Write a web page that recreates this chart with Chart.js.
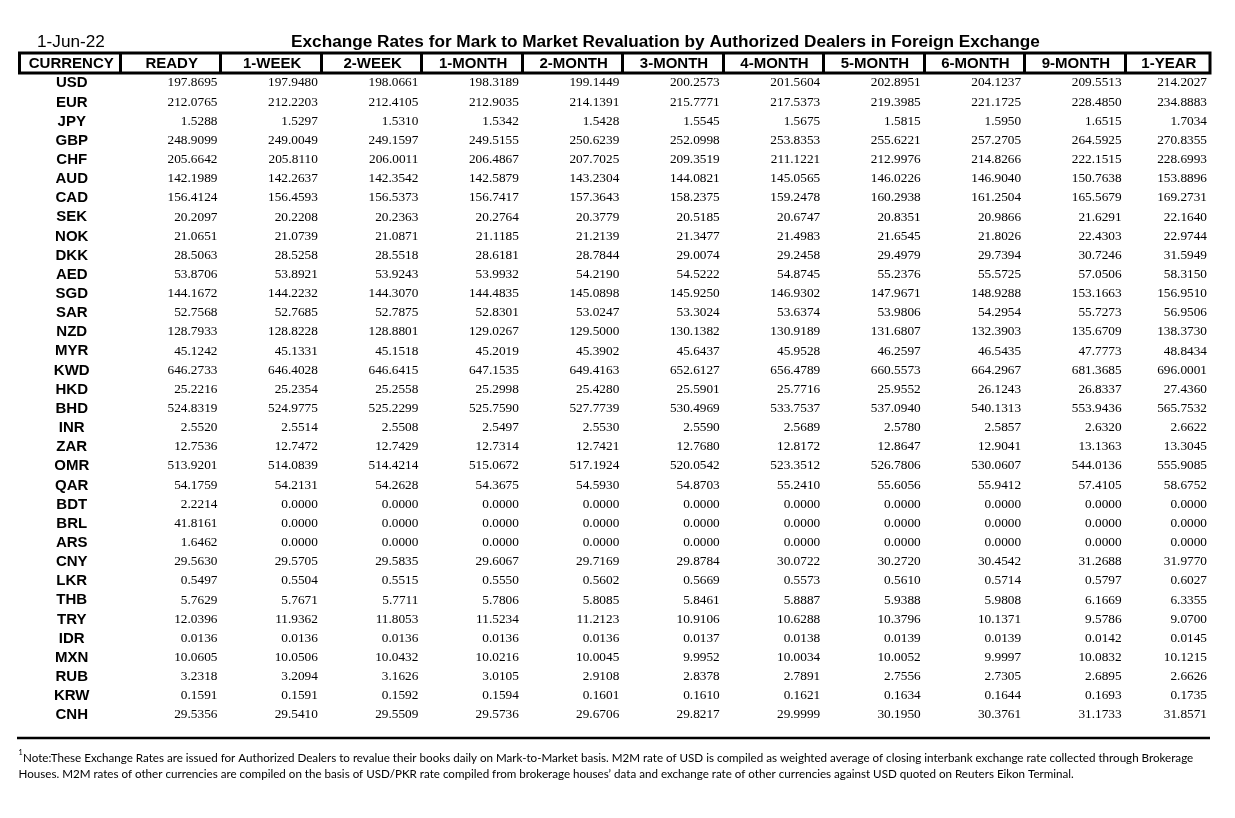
<!DOCTYPE html>
<html>
<head>
<meta charset="utf-8">
<script src="https://cdn.jsdelivr.net/npm/chart.js@4.4.1/dist/chart.umd.min.js"></script>
<style>
html,body{margin:0;padding:0;background:#ffffff;}
canvas{display:block;}
</style>
</head>
<body>
<canvas id="c" width="1235" height="818" style="width:1235px;height:818px"></canvas>
<script>
// ---------------- DATA ----------------
const reportDate = '1-Jun-22';
const titleText = 'Exchange Rates for Mark to Market Revaluation by Authorized Dealers in Foreign Exchange';
const currencyHeader = 'CURRENCY';
const tenors = ['READY','1-WEEK','2-WEEK','1-MONTH','2-MONTH','3-MONTH','4-MONTH','5-MONTH','6-MONTH','9-MONTH','1-YEAR'];
const currencies = ['USD','EUR','JPY','GBP','CHF','AUD','CAD','SEK','NOK','DKK','AED','SGD','SAR','NZD','MYR','KWD','HKD','BHD','INR','ZAR','OMR','QAR','BDT','BRL','ARS','CNY','LKR','THB','TRY','IDR','MXN','RUB','KRW','CNH'];

const ready   = [197.8695,212.0765,1.5288,248.9099,205.6642,142.1989,156.4124,20.2097,21.0651,28.5063,53.8706,144.1672,52.7568,128.7933,45.1242,646.2733,25.2216,524.8319,2.5520,12.7536,513.9201,54.1759,2.2214,41.8161,1.6462,29.5630,0.5497,5.7629,12.0396,0.0136,10.0605,3.2318,0.1591,29.5356];
const week1   = [197.9480,212.2203,1.5297,249.0049,205.8110,142.2637,156.4593,20.2208,21.0739,28.5258,53.8921,144.2232,52.7685,128.8228,45.1331,646.4028,25.2354,524.9775,2.5514,12.7472,514.0839,54.2131,0,0,0,29.5705,0.5504,5.7671,11.9362,0.0136,10.0506,3.2094,0.1591,29.5410];
const week2   = [198.0661,212.4105,1.5310,249.1597,206.0011,142.3542,156.5373,20.2363,21.0871,28.5518,53.9243,144.3070,52.7875,128.8801,45.1518,646.6415,25.2558,525.2299,2.5508,12.7429,514.4214,54.2628,0,0,0,29.5835,0.5515,5.7711,11.8053,0.0136,10.0432,3.1626,0.1592,29.5509];
const month1  = [198.3189,212.9035,1.5342,249.5155,206.4867,142.5879,156.7417,20.2764,21.1185,28.6181,53.9932,144.4835,52.8301,129.0267,45.2019,647.1535,25.2998,525.7590,2.5497,12.7314,515.0672,54.3675,0,0,0,29.6067,0.5550,5.7806,11.5234,0.0136,10.0216,3.0105,0.1594,29.5736];
const month2  = [199.1449,214.1391,1.5428,250.6239,207.7025,143.2304,157.3643,20.3779,21.2139,28.7844,54.2190,145.0898,53.0247,129.5000,45.3902,649.4163,25.4280,527.7739,2.5530,12.7421,517.1924,54.5930,0,0,0,29.7169,0.5602,5.8085,11.2123,0.0136,10.0045,2.9108,0.1601,29.6706];
const month3  = [200.2573,215.7771,1.5545,252.0998,209.3519,144.0821,158.2375,20.5185,21.3477,29.0074,54.5222,145.9250,53.3024,130.1382,45.6437,652.6127,25.5901,530.4969,2.5590,12.7680,520.0542,54.8703,0,0,0,29.8784,0.5669,5.8461,10.9106,0.0137,9.9952,2.8378,0.1610,29.8217];
const month4  = [201.5604,217.5373,1.5675,253.8353,211.1221,145.0565,159.2478,20.6747,21.4983,29.2458,54.8745,146.9302,53.6374,130.9189,45.9528,656.4789,25.7716,533.7537,2.5689,12.8172,523.3512,55.2410,0,0,0,30.0722,0.5573,5.8887,10.6288,0.0138,10.0034,2.7891,0.1621,29.9999];
const month5  = [202.8951,219.3985,1.5815,255.6221,212.9976,146.0226,160.2938,20.8351,21.6545,29.4979,55.2376,147.9671,53.9806,131.6807,46.2597,660.5573,25.9552,537.0940,2.5780,12.8647,526.7806,55.6056,0,0,0,30.2720,0.5610,5.9388,10.3796,0.0139,10.0052,2.7556,0.1634,30.1950];
const month6  = [204.1237,221.1725,1.5950,257.2705,214.8266,146.9040,161.2504,20.9866,21.8026,29.7394,55.5725,148.9288,54.2954,132.3903,46.5435,664.2967,26.1243,540.1313,2.5857,12.9041,530.0607,55.9412,0,0,0,30.4542,0.5714,5.9808,10.1371,0.0139,9.9997,2.7305,0.1644,30.3761];
const month9  = [209.5513,228.4850,1.6515,264.5925,222.1515,150.7638,165.5679,21.6291,22.4303,30.7246,57.0506,153.1663,55.7273,135.6709,47.7773,681.3685,26.8337,553.9436,2.6320,13.1363,544.0136,57.4105,0,0,0,31.2688,0.5797,6.1669,9.5786,0.0142,10.0832,2.6895,0.1693,31.1733];
const year1   = [214.2027,234.8883,1.7034,270.8355,228.6993,153.8896,169.2731,22.1640,22.9744,31.5949,58.3150,156.9510,56.9506,138.3730,48.8434,696.0001,27.4360,565.7532,2.6622,13.3045,555.9085,58.6752,0,0,0,31.9770,0.6027,6.3355,9.0700,0.0145,10.1215,2.6626,0.1735,31.8571];

const noteMark = '1';
const noteLines = [
  'Note:These Exchange Rates are issued for Authorized Dealers to revalue their books daily on Mark-to-Market basis. M2M rate of USD is compiled as weighted average of closing interbank exchange rate collected through Brokerage',
  'Houses. M2M rates of other currencies are compiled on the basis of USD/PKR rate compiled from brokerage houses\u2019 data and exchange rate of other currencies against USD quoted on Reuters Eikon Terminal.'
];

// ---------------- LAYOUT (column boundaries in column units) ----------------
const series = [ready, week1, week2, month1, month2, month3, month4, month5, month6, month9, year1];
const COL_EDGES = [0,1,2,3,4,5,6,7,8,9,10,11,11.85];

const SANS = '"Liberation Sans", Arial, Helvetica, sans-serif';
const SERIF = '"Liberation Serif", "Times New Roman", serif';

const datasets = tenors.map((t, j) => ({
  label: t,
  data: currencies.map((c, i) => ({ x: COL_EDGES[j + 2], y: c, v: series[j][i] })),
  pointRadius: 0,
  pointHoverRadius: 0,
  showLine: false
}));

const tablePlugin = {
  id: 'tablePlugin',
  afterDatasetsDraw(chart) {
    const ctx = chart.ctx;
    const xs = chart.scales.x;
    const px = v => xs.getPixelForValue(v);
    ctx.save();
    ctx.fillStyle = '#000';
    ctx.strokeStyle = '#000';
    ctx.textBaseline = 'alphabetic';

    // Date & title
    ctx.font = '17.2px ' + SANS;
    ctx.textAlign = 'left';
    ctx.fillText(reportDate, 37, 47);
    ctx.font = 'bold 17.2px ' + SANS;
    ctx.textAlign = 'center';
    ctx.fillText(titleText, 665.5, 46.5);

    // Header box
    const top = 53, bot = 73;
    const L = px(COL_EDGES[0]), R = px(COL_EDGES[COL_EDGES.length - 1]);
    ctx.lineWidth = 3;
    ctx.strokeRect(L, top, R - L, bot - top);
    for (let k = 1; k < COL_EDGES.length - 1; k++) {
      const x = Math.round(px(COL_EDGES[k])) + 0.5;
      ctx.beginPath();
      ctx.moveTo(x, top);
      ctx.lineTo(x, bot);
      ctx.stroke();
    }
    const headers = [currencyHeader].concat(tenors);
    ctx.font = 'bold 15px ' + SANS;
    ctx.textAlign = 'center';
    headers.forEach((h, k) => {
      const cx = (px(COL_EDGES[k]) + px(COL_EDGES[k + 1])) / 2 + 1.5;
      ctx.fillText(h, cx, 68);
    });

    // Currency labels
    const meta0 = chart.getDatasetMeta(0);
    const cx0 = (px(COL_EDGES[0]) + px(COL_EDGES[1])) / 2 + 2;
    ctx.font = 'bold 15px ' + SANS;
    meta0.data.forEach((pt, i) => {
      ctx.fillText(currencies[i], cx0, pt.y + 5.4);
    });

    // Values
    ctx.font = '13.3px ' + SERIF;
    ctx.textAlign = 'right';
    chart.data.datasets.forEach((ds, j) => {
      const meta = chart.getDatasetMeta(j);
      meta.data.forEach((pt, i) => {
        ctx.fillText(ds.data[i].v.toFixed(4), pt.x - 3, pt.y + 4.5);
      });
    });

    // Separator
    ctx.lineWidth = 2.5;
    ctx.beginPath();
    ctx.moveTo(17, 738);
    ctx.lineTo(1210, 738);
    ctx.stroke();

    // Note
    const NOTE_FONT = 'Lato, "Open Sans", sans-serif';
    ctx.font = '12px ' + NOTE_FONT;
    const w2 = ctx.measureText(noteLines[1]).width;
    const fs = 12 * (1075 - 18.5) / w2;
    ctx.textAlign = 'left';
    ctx.font = (fs * 0.62).toFixed(2) + 'px ' + NOTE_FONT;
    ctx.fillText(noteMark, 18.5, 755);
    ctx.font = fs.toFixed(2) + 'px ' + NOTE_FONT;
    ctx.fillText(noteLines[0], 23, 762);
    ctx.fillText(noteLines[1], 18.5, 778);
    ctx.restore();
  }
};

new Chart(document.getElementById('c'), {
  type: 'scatter',
  data: { datasets },
  options: {
    responsive: false,
    animation: false,
    events: [],
    layout: { padding: { left: 19.5, right: 25, top: 72.4, bottom: 94.5 } },
    plugins: { legend: { display: false }, tooltip: { enabled: false }, title: { display: false } },
    scales: {
      x: { type: 'linear', min: COL_EDGES[0], max: COL_EDGES[COL_EDGES.length - 1], display: false },
      y: { type: 'category', labels: currencies, offset: true, display: false }
    }
  },
  plugins: [tablePlugin]
});
</script>
</body>
</html>
